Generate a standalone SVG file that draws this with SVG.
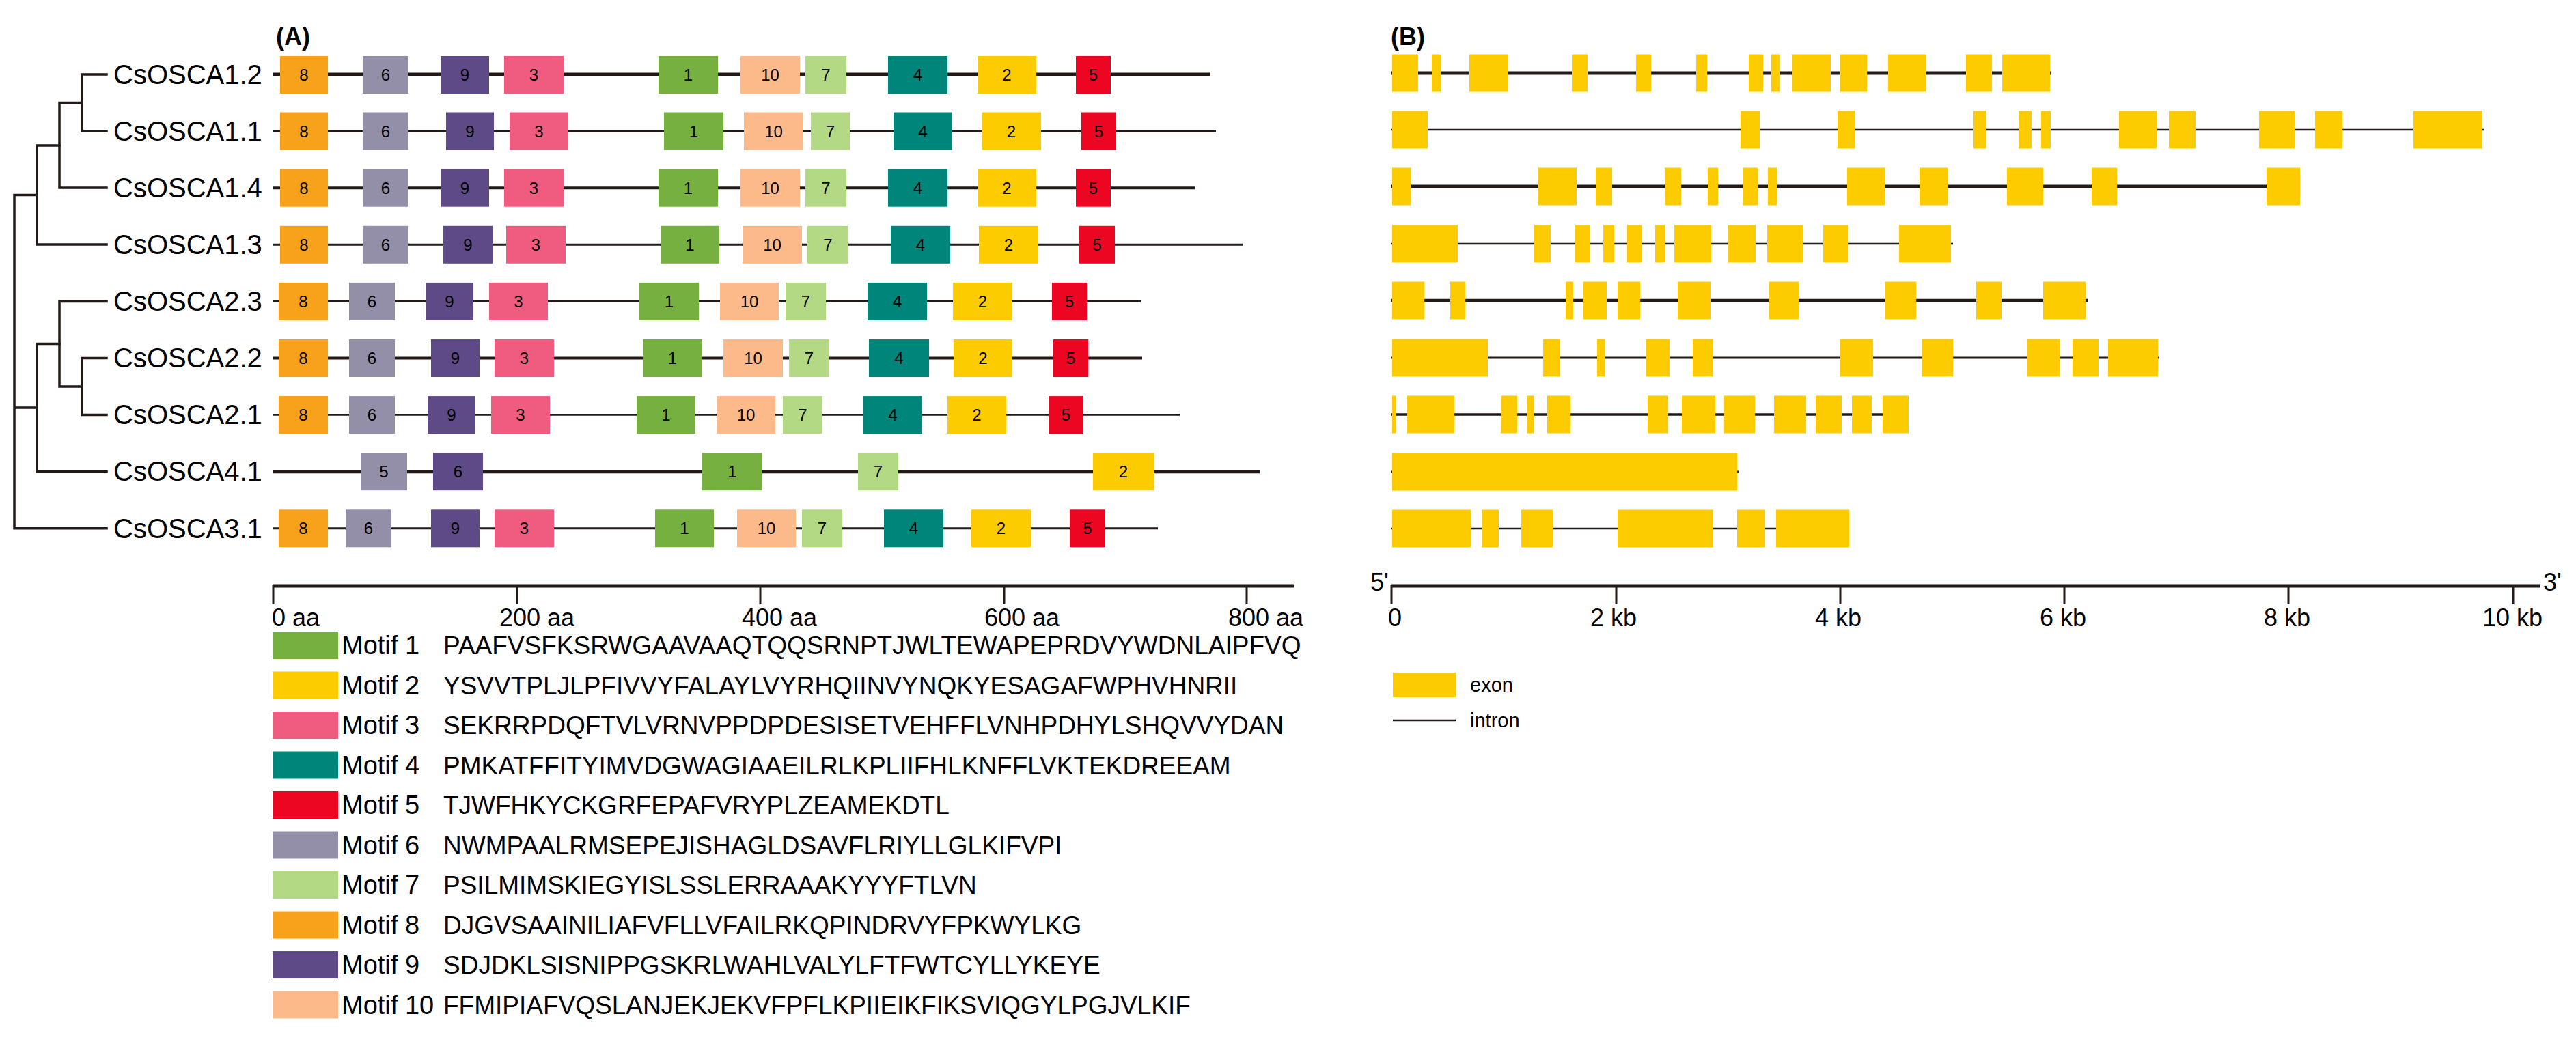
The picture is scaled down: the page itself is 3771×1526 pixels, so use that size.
<svg xmlns="http://www.w3.org/2000/svg" width="3771" height="1526" viewBox="0 0 3771 1526">
<style>
text{font-family:"Liberation Sans",Arial,sans-serif;fill:#000}
.lab{font-size:40px}
.ax{font-size:36px}
.pl{font-size:36px;font-weight:bold}
.num{font-size:24px;text-anchor:middle}
.leg{font-size:38px}
.seq{font-size:37px}
.tr{stroke:#231916;stroke-width:3.5;fill:none;stroke-linecap:square}
.pl1{stroke:#231916;fill:none}
.m1{fill:#76B041}.m2{fill:#FDCC00}.m3{fill:#F05C80}.m4{fill:#00857A}.m5{fill:#EC0622}
.m6{fill:#948FA8}.m7{fill:#B3D985}.m8{fill:#F8A21C}.m9{fill:#5E4A86}.m10{fill:#FCB98A}
.ex{fill:#FCCC00}
</style>
<rect width="3771" height="1526" fill="#fff"/>
<text class="pl" x="404" y="66">(A)</text>
<text class="pl" x="2036" y="66">(B)</text>

<g id="connectors" class="tr">
<path d="M120 109V192M120 109H156M120 192H156"/>
<path d="M87 150.5V275M87 150.5H120M87 275H156"/>
<path d="M54 213V358M54 213H87M54 358H156"/>
<path d="M120 524.5V607.6M120 524.5H156M120 607.6H156"/>
<path d="M87 441.4V566M87 441.4H156M87 566H120"/>
<path d="M54 503.5V690.7M54 503.5H87M54 690.7H156"/>
<path d="M21 285.5V773.8M21 285.5H54M21 597H54M21 773.8H156"/>
</g>

<g id="CsOSCA1.2">
<text class="lab" x="166" y="123">CsOSCA1.2</text>
<line class="pl1" x1="400" y1="109" x2="1771" y2="109" stroke-width="5"/>
<rect class="m8" x="410" y="82" width="70" height="55"/><text class="num" x="445" y="118">8</text>
<rect class="m6" x="531" y="82" width="67" height="55"/><text class="num" x="564.5" y="118">6</text>
<rect class="m9" x="645" y="82" width="71" height="55"/><text class="num" x="680.5" y="118">9</text>
<rect class="m3" x="738" y="82" width="87" height="55"/><text class="num" x="781.5" y="118">3</text>
<rect class="m1" x="964" y="82" width="87" height="55"/><text class="num" x="1007.5" y="118">1</text>
<rect class="m10" x="1084" y="82" width="87" height="55"/><text class="num" x="1127.5" y="118">10</text>
<rect class="m7" x="1179" y="82" width="60" height="55"/><text class="num" x="1209" y="118">7</text>
<rect class="m4" x="1300" y="82" width="87" height="55"/><text class="num" x="1343.5" y="118">4</text>
<rect class="m2" x="1431" y="82" width="86" height="55"/><text class="num" x="1474" y="118">2</text>
<rect class="m5" x="1575" y="82" width="51" height="55"/><text class="num" x="1600.5" y="118">5</text>
</g>

<g id="CsOSCA1.1">
<text class="lab" x="166" y="206">CsOSCA1.1</text>
<line class="pl1" x1="400" y1="192" x2="1780" y2="192" stroke-width="2.5"/>
<rect class="m8" x="410" y="164.5" width="70" height="55"/><text class="num" x="445" y="201">8</text>
<rect class="m6" x="531" y="164.5" width="67" height="55"/><text class="num" x="564.5" y="201">6</text>
<rect class="m9" x="653" y="164.5" width="70" height="55"/><text class="num" x="688" y="201">9</text>
<rect class="m3" x="746" y="164.5" width="86" height="55"/><text class="num" x="789" y="201">3</text>
<rect class="m1" x="972" y="164.5" width="87" height="55"/><text class="num" x="1015.5" y="201">1</text>
<rect class="m10" x="1089" y="164.5" width="87" height="55"/><text class="num" x="1132.5" y="201">10</text>
<rect class="m7" x="1187" y="164.5" width="57" height="55"/><text class="num" x="1215.5" y="201">7</text>
<rect class="m4" x="1308" y="164.5" width="86" height="55"/><text class="num" x="1351" y="201">4</text>
<rect class="m2" x="1437" y="164.5" width="87" height="55"/><text class="num" x="1480.5" y="201">2</text>
<rect class="m5" x="1583" y="164.5" width="51" height="55"/><text class="num" x="1608.5" y="201">5</text>
</g>

<g id="CsOSCA1.4">
<text class="lab" x="166" y="289">CsOSCA1.4</text>
<line class="pl1" x1="400" y1="275.2" x2="1749" y2="275.2" stroke-width="4"/>
<rect class="m8" x="410" y="247.7" width="70" height="55"/><text class="num" x="445" y="284">8</text>
<rect class="m6" x="531" y="247.7" width="67" height="55"/><text class="num" x="564.5" y="284">6</text>
<rect class="m9" x="645" y="247.7" width="71" height="55"/><text class="num" x="680.5" y="284">9</text>
<rect class="m3" x="738" y="247.7" width="87" height="55"/><text class="num" x="781.5" y="284">3</text>
<rect class="m1" x="964" y="247.7" width="87" height="55"/><text class="num" x="1007.5" y="284">1</text>
<rect class="m10" x="1084" y="247.7" width="87" height="55"/><text class="num" x="1127.5" y="284">10</text>
<rect class="m7" x="1179" y="247.7" width="60" height="55"/><text class="num" x="1209" y="284">7</text>
<rect class="m4" x="1300" y="247.7" width="87" height="55"/><text class="num" x="1343.5" y="284">4</text>
<rect class="m2" x="1431" y="247.7" width="86" height="55"/><text class="num" x="1474" y="284">2</text>
<rect class="m5" x="1575" y="247.7" width="51" height="55"/><text class="num" x="1600.5" y="284">5</text>
</g>

<g id="CsOSCA1.3">
<text class="lab" x="166" y="372">CsOSCA1.3</text>
<line class="pl1" x1="400" y1="358.3" x2="1819" y2="358.3" stroke-width="3"/>
<rect class="m8" x="410" y="330.8" width="70" height="55"/><text class="num" x="445" y="367">8</text>
<rect class="m6" x="531" y="330.8" width="67" height="55"/><text class="num" x="564.5" y="367">6</text>
<rect class="m9" x="649" y="330.8" width="72" height="55"/><text class="num" x="685" y="367">9</text>
<rect class="m3" x="741" y="330.8" width="87" height="55"/><text class="num" x="784.5" y="367">3</text>
<rect class="m1" x="967" y="330.8" width="86" height="55"/><text class="num" x="1010" y="367">1</text>
<rect class="m10" x="1087" y="330.8" width="87" height="55"/><text class="num" x="1130.5" y="367">10</text>
<rect class="m7" x="1182" y="330.8" width="60" height="55"/><text class="num" x="1212" y="367">7</text>
<rect class="m4" x="1304" y="330.8" width="87" height="55"/><text class="num" x="1347.5" y="367">4</text>
<rect class="m2" x="1433" y="330.8" width="87" height="55"/><text class="num" x="1476.5" y="367">2</text>
<rect class="m5" x="1580" y="330.8" width="52" height="55"/><text class="num" x="1606" y="367">5</text>
</g>

<g id="CsOSCA2.3">
<text class="lab" x="166" y="455">CsOSCA2.3</text>
<line class="pl1" x1="400" y1="441.4" x2="1670" y2="441.4" stroke-width="3"/>
<rect class="m8" x="408" y="413.9" width="72" height="55"/><text class="num" x="444" y="450">8</text>
<rect class="m6" x="511" y="413.9" width="67" height="55"/><text class="num" x="544.5" y="450">6</text>
<rect class="m9" x="623" y="413.9" width="70" height="55"/><text class="num" x="658" y="450">9</text>
<rect class="m3" x="716" y="413.9" width="86" height="55"/><text class="num" x="759" y="450">3</text>
<rect class="m1" x="936" y="413.9" width="87" height="55"/><text class="num" x="979.5" y="450">1</text>
<rect class="m10" x="1054" y="413.9" width="86" height="55"/><text class="num" x="1097" y="450">10</text>
<rect class="m7" x="1150" y="413.9" width="59" height="55"/><text class="num" x="1179.5" y="450">7</text>
<rect class="m4" x="1270" y="413.9" width="87" height="55"/><text class="num" x="1313.5" y="450">4</text>
<rect class="m2" x="1395" y="413.9" width="87" height="55"/><text class="num" x="1438.5" y="450">2</text>
<rect class="m5" x="1540" y="413.9" width="51" height="55"/><text class="num" x="1565.5" y="450">5</text>
</g>

<g id="CsOSCA2.2">
<text class="lab" x="166" y="538">CsOSCA2.2</text>
<line class="pl1" x1="400" y1="524.5" x2="1672" y2="524.5" stroke-width="4"/>
<rect class="m8" x="408" y="497" width="72" height="55"/><text class="num" x="444" y="533">8</text>
<rect class="m6" x="511" y="497" width="67" height="55"/><text class="num" x="544.5" y="533">6</text>
<rect class="m9" x="631" y="497" width="71" height="55"/><text class="num" x="666.5" y="533">9</text>
<rect class="m3" x="724" y="497" width="87" height="55"/><text class="num" x="767.5" y="533">3</text>
<rect class="m1" x="941" y="497" width="87" height="55"/><text class="num" x="984.5" y="533">1</text>
<rect class="m10" x="1059" y="497" width="87" height="55"/><text class="num" x="1102.5" y="533">10</text>
<rect class="m7" x="1155" y="497" width="59" height="55"/><text class="num" x="1184.5" y="533">7</text>
<rect class="m4" x="1272" y="497" width="88" height="55"/><text class="num" x="1316" y="533">4</text>
<rect class="m2" x="1396" y="497" width="86" height="55"/><text class="num" x="1439" y="533">2</text>
<rect class="m5" x="1542" y="497" width="51" height="55"/><text class="num" x="1567.5" y="533">5</text>
</g>

<g id="CsOSCA2.1">
<text class="lab" x="166" y="621">CsOSCA2.1</text>
<line class="pl1" x1="400" y1="607.6" x2="1727" y2="607.6" stroke-width="2.5"/>
<rect class="m8" x="408" y="580.1" width="72" height="55"/><text class="num" x="444" y="616">8</text>
<rect class="m6" x="511" y="580.1" width="67" height="55"/><text class="num" x="544.5" y="616">6</text>
<rect class="m9" x="626" y="580.1" width="70" height="55"/><text class="num" x="661" y="616">9</text>
<rect class="m3" x="719" y="580.1" width="86" height="55"/><text class="num" x="762" y="616">3</text>
<rect class="m1" x="932" y="580.1" width="86" height="55"/><text class="num" x="975" y="616">1</text>
<rect class="m10" x="1049" y="580.1" width="86" height="55"/><text class="num" x="1092" y="616">10</text>
<rect class="m7" x="1146" y="580.1" width="58" height="55"/><text class="num" x="1175" y="616">7</text>
<rect class="m4" x="1264" y="580.1" width="86" height="55"/><text class="num" x="1307" y="616">4</text>
<rect class="m2" x="1387" y="580.1" width="86" height="55"/><text class="num" x="1430" y="616">2</text>
<rect class="m5" x="1535" y="580.1" width="51" height="55"/><text class="num" x="1560.5" y="616">5</text>
</g>

<g id="CsOSCA4.1">
<text class="lab" x="166" y="704">CsOSCA4.1</text>
<line class="pl1" x1="400" y1="690.7" x2="1844" y2="690.7" stroke-width="5"/>
<rect class="m6" x="528" y="663.2" width="68" height="55"/><text class="num" x="562" y="699">5</text>
<rect class="m9" x="634" y="663.2" width="73" height="55"/><text class="num" x="670.5" y="699">6</text>
<rect class="m1" x="1028" y="663.2" width="88" height="55"/><text class="num" x="1072" y="699">1</text>
<rect class="m7" x="1256" y="663.2" width="59" height="55"/><text class="num" x="1285.5" y="699">7</text>
<rect class="m2" x="1600" y="663.2" width="89" height="55"/><text class="num" x="1644.5" y="699">2</text>
</g>

<g id="CsOSCA3.1">
<text class="lab" x="166" y="788">CsOSCA3.1</text>
<line class="pl1" x1="400" y1="773.8" x2="1695" y2="773.8" stroke-width="3"/>
<rect class="m8" x="408" y="746.3" width="72" height="55"/><text class="num" x="444" y="782">8</text>
<rect class="m6" x="506" y="746.3" width="67" height="55"/><text class="num" x="539.5" y="782">6</text>
<rect class="m9" x="631" y="746.3" width="71" height="55"/><text class="num" x="666.5" y="782">9</text>
<rect class="m3" x="724" y="746.3" width="87" height="55"/><text class="num" x="767.5" y="782">3</text>
<rect class="m1" x="959" y="746.3" width="86" height="55"/><text class="num" x="1002" y="782">1</text>
<rect class="m10" x="1079" y="746.3" width="86" height="55"/><text class="num" x="1122" y="782">10</text>
<rect class="m7" x="1174" y="746.3" width="59" height="55"/><text class="num" x="1203.5" y="782">7</text>
<rect class="m4" x="1294" y="746.3" width="87" height="55"/><text class="num" x="1337.5" y="782">4</text>
<rect class="m2" x="1422" y="746.3" width="87" height="55"/><text class="num" x="1465.5" y="782">2</text>
<rect class="m5" x="1566" y="746.3" width="52" height="55"/><text class="num" x="1592" y="782">5</text>
</g>

<g id="axis-aa">
<line class="pl1" x1="400" y1="858" x2="1894" y2="858" stroke-width="5"/>
<path class="pl1" stroke-width="3" d="M400 856V885M757 858V885M1113 858V885M1470 858V885M1825 858V885"/>
<text class="ax" x="398" y="917">0 aa</text>
<text class="ax" x="731" y="917">200 aa</text>
<text class="ax" x="1086" y="917">400 aa</text>
<text class="ax" x="1441" y="917">600 aa</text>
<text class="ax" x="1798" y="917">800 aa</text>
</g>

<g id="gene-CsOSCA1.2">
<line class="pl1" x1="2036" y1="107" x2="3003" y2="107" stroke-width="5"/>
<path class="ex" d="M2038 79.5h38v55h-38zM2096 79.5h13v55h-13zM2151 79.5h57v55h-57zM2301 79.5h23v55h-23zM2395 79.5h22v55h-22zM2483 79.5h16v55h-16zM2560 79.5h21v55h-21zM2593 79.5h13v55h-13zM2623 79.5h57v55h-57zM2694 79.5h39v55h-39zM2764 79.5h55v55h-55zM2878 79.5h38v55h-38zM2931 79.5h70v55h-70z"/>
</g>
<g id="gene-CsOSCA1.1">
<line class="pl1" x1="2036" y1="190" x2="3637" y2="190" stroke-width="2.5"/>
<path class="ex" d="M2038 162.5h52v55h-52zM2548 162.5h28v55h-28zM2690 162.5h25v55h-25zM2889 162.5h18v55h-18zM2955 162.5h19v55h-19zM2988 162.5h14v55h-14zM3102 162.5h55v55h-55zM3175 162.5h39v55h-39zM3307 162.5h52v55h-52zM3389 162.5h40v55h-40zM3533 162.5h101v55h-101z"/>
</g>
<g id="gene-CsOSCA1.4">
<line class="pl1" x1="2036" y1="273" x2="3367" y2="273" stroke-width="5"/>
<path class="ex" d="M2038 245.5h28v55h-28zM2252 245.5h56v55h-56zM2336 245.5h24v55h-24zM2437 245.5h24v55h-24zM2500 245.5h15v55h-15zM2551 245.5h22v55h-22zM2588 245.5h13v55h-13zM2704 245.5h55v55h-55zM2810 245.5h41v55h-41zM2938 245.5h53v55h-53zM3062 245.5h37v55h-37zM3318 245.5h49v55h-49z"/>
</g>
<g id="gene-CsOSCA1.3">
<line class="pl1" x1="2036" y1="357" x2="2859" y2="357" stroke-width="2.5"/>
<path class="ex" d="M2038 329.5h96v55h-96zM2246 329.5h24v55h-24zM2306 329.5h22v55h-22zM2347 329.5h16v55h-16zM2382 329.5h21v55h-21zM2423 329.5h14v55h-14zM2451 329.5h54v55h-54zM2529 329.5h41v55h-41zM2587 329.5h52v55h-52zM2669 329.5h37v55h-37zM2780 329.5h76v55h-76z"/>
</g>
<g id="gene-CsOSCA2.3">
<line class="pl1" x1="2036" y1="440" x2="3056" y2="440" stroke-width="4.5"/>
<path class="ex" d="M2038 412.5h47v55h-47zM2123 412.5h22v55h-22zM2292 412.5h11v55h-11zM2317 412.5h35v55h-35zM2368 412.5h33v55h-33zM2456 412.5h48v55h-48zM2589 412.5h44v55h-44zM2759 412.5h46v55h-46zM2893 412.5h37v55h-37zM2991 412.5h62v55h-62z"/>
</g>
<g id="gene-CsOSCA2.2">
<line class="pl1" x1="2036" y1="524" x2="3161" y2="524" stroke-width="3"/>
<path class="ex" d="M2038 496.5h140v55h-140zM2259 496.5h25v55h-25zM2338 496.5h11v55h-11zM2409 496.5h35v55h-35zM2478 496.5h29v55h-29zM2694 496.5h48v55h-48zM2813 496.5h46v55h-46zM2968 496.5h47v55h-47zM3034 496.5h38v55h-38zM3086 496.5h73v55h-73z"/>
</g>
<g id="gene-CsOSCA2.1">
<line class="pl1" x1="2036" y1="607" x2="2794" y2="607" stroke-width="3.5"/>
<path class="ex" d="M2038 579.5h6v55h-6zM2060 579.5h69v55h-69zM2197 579.5h24v55h-24zM2235 579.5h11v55h-11zM2265 579.5h34v55h-34zM2412 579.5h30v55h-30zM2462 579.5h49v55h-49zM2524 579.5h45v55h-45zM2597 579.5h47v55h-47zM2658 579.5h38v55h-38zM2711 579.5h29v55h-29zM2756 579.5h38v55h-38z"/>
</g>
<g id="gene-CsOSCA4.1">
<line class="pl1" x1="2036" y1="691" x2="2546" y2="691" stroke-width="3"/>
<path class="ex" d="M2038 663.5h505v55h-505z"/>
</g>
<g id="gene-CsOSCA3.1">
<line class="pl1" x1="2036" y1="774" x2="2707" y2="774" stroke-width="2.5"/>
<path class="ex" d="M2038 746.5h115v55h-115zM2169 746.5h25v55h-25zM2227 746.5h46v55h-46zM2368 746.5h140v55h-140zM2543 746.5h41v55h-41zM2600 746.5h107v55h-107z"/>
</g>

<g id="axis-kb">
<line class="pl1" x1="2037" y1="858" x2="3719" y2="858" stroke-width="5"/>
<path class="pl1" stroke-width="3" d="M2037 856V885M2366 858V885M2694 858V885M3022 858V885M3350 858V885M3679 858V885"/>
<text class="ax" x="2033" y="865" text-anchor="end">5'</text>
<text class="ax" x="3723" y="865">3'</text>
<text class="ax" x="2032" y="917">0</text>
<text class="ax" x="2328" y="917">2 kb</text>
<text class="ax" x="2657" y="917">4 kb</text>
<text class="ax" x="2986" y="917">6 kb</text>
<text class="ax" x="3314" y="917">8 kb</text>
<text class="ax" x="3634" y="917">10 kb</text>
</g>

<g id="legend-motifs">
<rect class="m1" x="399" y="925" width="96" height="40"/><text class="leg" x="500" y="958">Motif 1</text><text class="seq" x="649" y="958">PAAFVSFKSRWGAAVAAQTQQSRNPTJWLTEWAPEPRDVYWDNLAIPFVQ</text>
<rect class="m2" x="399" y="983.5" width="96" height="40"/><text class="leg" x="500" y="1016.5">Motif 2</text><text class="seq" x="649" y="1016.5">YSVVTPLJLPFIVVYFALAYLVYRHQIINVYNQKYESAGAFWPHVHNRII</text>
<rect class="m3" x="399" y="1042" width="96" height="40"/><text class="leg" x="500" y="1075">Motif 3</text><text class="seq" x="649" y="1075">SEKRRPDQFTVLVRNVPPDPDESISETVEHFFLVNHPDHYLSHQVVYDAN</text>
<rect class="m4" x="399" y="1100.5" width="96" height="40"/><text class="leg" x="500" y="1133.5">Motif 4</text><text class="seq" x="649" y="1133.5">PMKATFFITYIMVDGWAGIAAEILRLKPLIIFHLKNFFLVKTEKDREEAM</text>
<rect class="m5" x="399" y="1159" width="96" height="40"/><text class="leg" x="500" y="1192">Motif 5</text><text class="seq" x="649" y="1192">TJWFHKYCKGRFEPAFVRYPLZEAMEKDTL</text>
<rect class="m6" x="399" y="1217.5" width="96" height="40"/><text class="leg" x="500" y="1250.5">Motif 6</text><text class="seq" x="649" y="1250.5">NWMPAALRMSEPEJISHAGLDSAVFLRIYLLGLKIFVPI</text>
<rect class="m7" x="399" y="1276" width="96" height="40"/><text class="leg" x="500" y="1309">Motif 7</text><text class="seq" x="649" y="1309">PSILMIMSKIEGYISLSSLERRAAAKYYYFTLVN</text>
<rect class="m8" x="399" y="1334.5" width="96" height="40"/><text class="leg" x="500" y="1367.5">Motif 8</text><text class="seq" x="649" y="1367.5">DJGVSAAINILIAFVFLLVFAILRKQPINDRVYFPKWYLKG</text>
<rect class="m9" x="399" y="1393" width="96" height="40"/><text class="leg" x="500" y="1426">Motif 9</text><text class="seq" x="649" y="1426">SDJDKLSISNIPPGSKRLWAHLVALYLFTFWTCYLLYKEYE</text>
<rect class="m10" x="399" y="1451.5" width="96" height="40"/><text class="leg" x="500" y="1484.5">Motif 10</text><text class="seq" x="649" y="1484.5">FFMIPIAFVQSLANJEKJEKVFPFLKPIIEIKFIKSVIQGYLPGJVLKIF</text>
</g>

<g id="legend-gene">
<rect class="ex" x="2039" y="985" width="92" height="36"/>
<text x="2152" y="1013" font-size="29">exon</text>
<line class="pl1" x1="2039" y1="1055" x2="2131" y2="1055" stroke-width="2.5"/>
<text x="2152" y="1065" font-size="29">intron</text>
</g>
</svg>
